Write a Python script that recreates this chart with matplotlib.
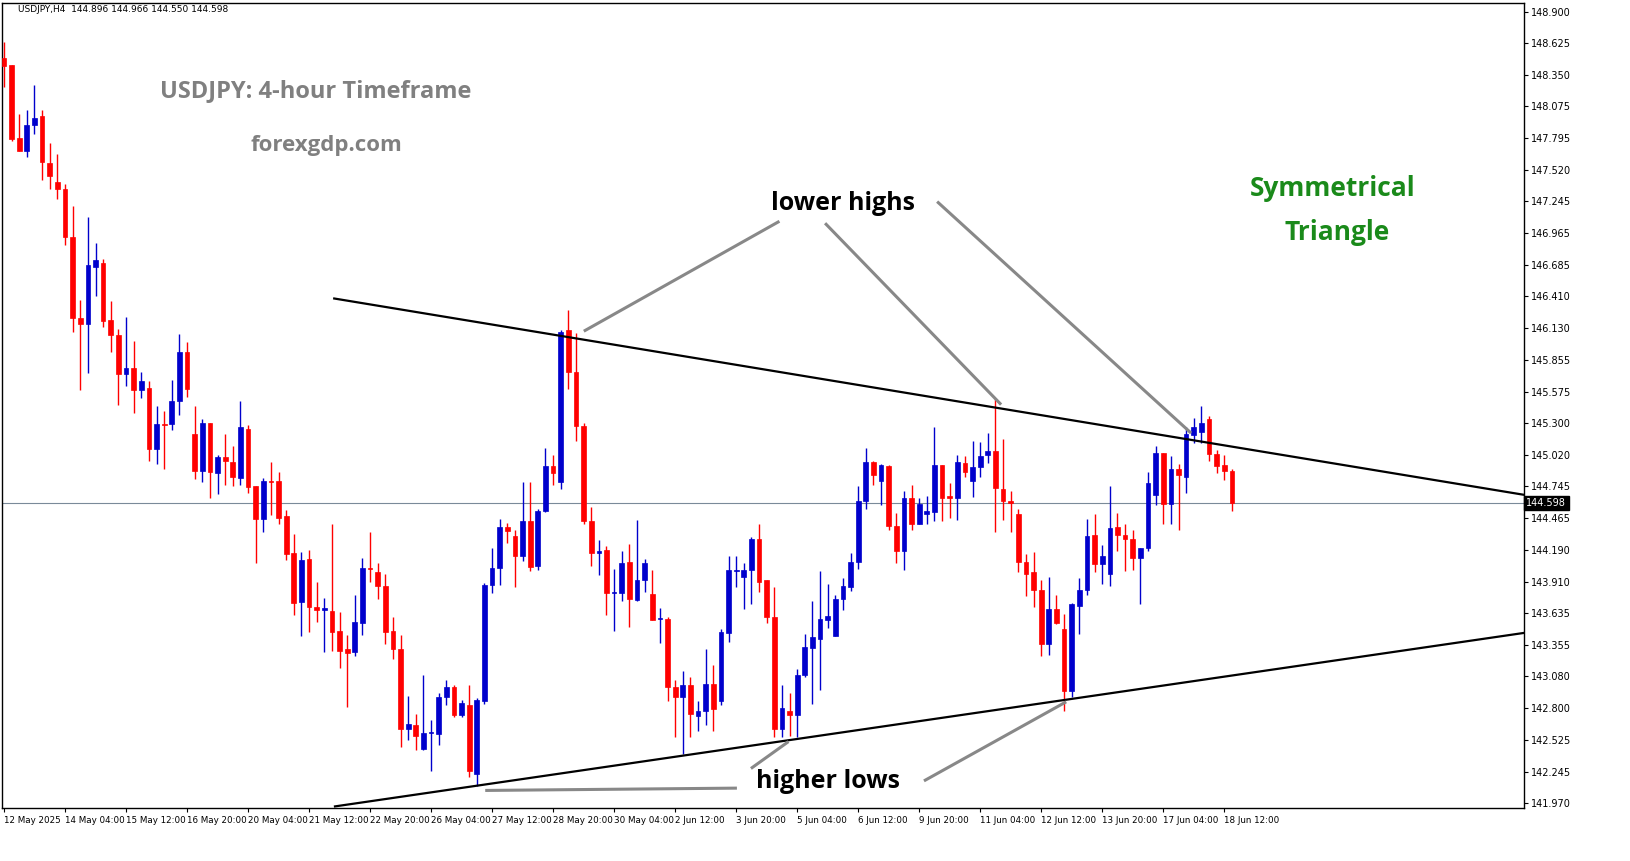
import matplotlib
matplotlib.use("Agg")
import matplotlib.pyplot as plt
from matplotlib.patches import Rectangle

# OHLC, USDJPY H4
opens = [148.50,148.44,147.80,147.68,147.91,147.99,147.58,147.41,147.35,146.93,
         146.22,146.17,146.67,146.70,146.20,146.07,145.73,145.78,145.59,145.61,
         145.07,145.29,145.29,145.49,145.92,145.20,144.88,145.30,144.86,145.00,
         144.96,144.82,145.25,144.75,144.46,144.79,144.79,144.48,144.16,143.73,
         144.11,143.69,143.66,143.65,143.48,143.32,143.29,143.55,144.03,143.99,
         143.87,143.48,143.32,142.62,142.65,142.44,142.58,142.57,142.90,142.99,
         142.74,142.83,142.22,142.86,143.88,144.03,144.39,144.31,144.13,144.44,
         144.05,144.53,144.92,144.78,146.11,145.75,145.27,144.44,144.16,144.19,
         143.81,143.81,144.08,143.75,143.92,143.80,143.58,143.58,142.99,142.90,
         143.00,142.73,142.78,143.01,142.86,143.46,144.00,143.95,144.01,144.28,
         143.92,143.60,142.62,142.78,142.74,143.09,143.33,143.41,143.57,143.43,
         143.76,143.86,144.08,144.62,144.96,144.79,144.92,144.40,144.18,144.64,
         144.41,144.50,144.52,144.93,144.66,144.64,144.95,144.79,144.91,145.02,
         145.05,144.72,144.62,144.50,144.08,143.99,143.84,143.36,143.67,143.49,
         142.95,143.70,143.84,144.32,144.06,143.98,144.39,144.32,144.28,144.12,
         144.20,144.67,145.04,144.59,144.90,144.83,145.19,145.22,145.33,145.03,
         144.93,144.88]
highs = [148.64,148.44,148.01,148.04,148.26,148.04,147.75,147.66,147.39,147.20,
         146.38,147.10,146.88,146.74,146.37,146.12,146.23,146.02,145.75,145.67,
         145.45,145.40,145.68,146.08,146.01,145.45,145.33,145.30,145.02,145.20,
         145.10,145.49,145.28,144.75,144.82,144.96,144.87,144.54,144.33,144.17,
         144.19,143.91,143.77,144.41,143.64,143.44,143.79,144.12,144.34,144.07,
         143.98,143.60,143.44,142.91,142.75,143.09,142.70,142.93,143.05,143.00,
         142.87,143.00,142.89,143.90,144.20,144.46,144.42,144.36,144.78,144.78,
         144.55,145.08,145.02,146.11,146.29,146.09,145.30,144.56,144.27,144.22,
         144.02,144.18,144.24,144.45,144.11,144.01,143.68,143.60,143.05,143.13,
         143.07,142.86,143.32,143.18,143.49,144.13,144.13,144.07,144.30,144.41,
         143.92,143.86,143.00,142.93,143.14,143.45,143.74,144.00,143.89,143.79,
         143.94,144.16,144.75,145.08,144.97,144.94,144.93,144.51,144.70,144.76,
         144.64,144.66,145.26,144.93,144.77,145.02,145.01,145.14,145.13,145.21,
         145.52,145.16,144.70,144.55,144.15,144.17,143.92,143.95,143.79,143.63,
         143.72,143.94,144.46,144.50,144.23,144.75,144.51,144.41,144.36,144.20,
         144.87,145.10,145.04,145.01,144.94,145.26,145.34,145.45,145.36,145.06,
         145.02,144.90]
lows = [148.24,147.77,147.68,147.63,147.83,147.43,147.35,147.26,146.86,146.10,
        145.59,145.74,146.41,146.14,145.92,145.46,145.62,145.39,145.52,144.97,
        144.94,144.90,145.24,145.37,145.53,144.81,144.78,144.64,144.68,144.76,
        144.75,144.76,144.69,144.07,144.34,144.49,144.41,144.10,143.62,143.43,
        143.47,143.56,143.29,143.30,143.15,142.81,143.26,143.44,143.91,143.76,
        143.36,143.23,142.46,142.52,142.43,142.43,142.25,142.48,142.83,142.72,
        142.72,142.20,142.12,142.84,143.81,143.88,144.25,143.86,144.09,144.00,
        144.01,144.52,144.76,144.72,145.60,145.14,144.41,144.05,143.97,143.62,
        143.48,143.74,143.51,143.74,143.82,143.57,143.37,142.86,142.55,142.40,
        142.55,142.60,142.65,142.60,142.83,143.38,143.86,143.67,143.71,143.82,
        143.55,142.55,142.55,142.56,142.55,143.07,142.84,142.96,143.50,143.43,
        143.66,143.83,144.02,144.55,144.76,144.58,144.36,144.07,144.01,144.36,
        144.41,144.41,144.44,144.44,144.47,144.45,144.83,144.65,144.83,144.95,
        144.34,144.45,144.34,143.99,143.78,143.69,143.26,143.27,143.54,142.78,
        142.90,143.45,143.79,143.99,143.89,143.87,144.18,144.00,144.01,143.71,
        144.18,144.58,144.41,144.41,144.36,144.69,145.12,145.12,144.97,144.86,
        144.80,144.53]
closes = [148.43,147.79,147.68,147.91,147.97,147.59,147.46,147.35,146.93,146.22,
          146.17,146.68,146.73,146.19,146.07,145.73,145.78,145.59,145.67,145.07,
          145.29,145.28,145.49,145.92,145.60,144.88,145.30,144.87,145.00,144.97,
          144.83,145.26,144.74,144.46,144.79,144.78,144.47,144.15,143.72,144.10,
          143.69,143.66,143.68,143.47,143.30,143.28,143.56,144.03,144.02,143.87,
          143.47,143.32,142.62,142.66,142.56,142.58,142.59,142.90,142.99,142.74,
          142.85,142.25,142.87,143.88,144.03,144.39,144.35,144.13,144.44,144.04,
          144.53,144.92,144.86,146.10,145.75,145.27,144.44,144.16,144.18,143.81,
          143.82,144.07,143.76,143.92,144.07,143.57,143.59,142.99,142.90,143.00,
          142.75,142.78,143.01,142.79,143.47,144.01,144.01,144.01,144.28,143.91,
          143.60,142.62,142.80,142.74,143.09,143.34,143.42,143.58,143.61,143.76,
          143.87,144.08,144.62,144.96,144.84,144.93,144.40,144.18,144.64,144.41,
          144.59,144.53,144.93,144.64,144.64,144.96,144.87,144.91,145.01,145.05,
          144.73,144.62,144.60,144.08,143.98,143.84,143.36,143.67,143.55,142.95,
          143.71,143.84,144.31,144.06,144.13,144.38,144.32,144.28,144.12,144.20,
          144.77,145.04,144.59,144.90,144.84,145.20,145.26,145.30,145.03,144.92,
          144.88,144.60]

date_labels = ["12 May 2025", "14 May 04:00", "15 May 12:00", "16 May 20:00", "20 May 04:00",
               "21 May 12:00", "22 May 20:00", "26 May 04:00", "27 May 12:00", "28 May 20:00",
               "30 May 04:00", "2 Jun 12:00", "3 Jun 20:00", "5 Jun 04:00", "6 Jun 12:00",
               "9 Jun 20:00", "11 Jun 04:00", "12 Jun 12:00", "13 Jun 20:00", "17 Jun 04:00",
               "18 Jun 12:00"]
price_ticks = [148.900, 148.625, 148.350, 148.075, 147.795, 147.520, 147.245, 146.965,
               146.685, 146.410, 146.130, 145.855, 145.575, 145.300, 145.020, 144.745,
               144.465, 144.190, 143.910, 143.635, 143.355, 143.080, 142.800, 142.525,
               142.245, 141.970]
last_price = 144.598

# trendlines drawn on the chart (bar index, price)
upper_line = ([43.3, 199.3], [146.39, 144.67])
lower_line = ([43.4, 199.3], [141.94, 143.46])
# pointer lines for the notes
high_pointers = [([101.5, 76.2], [147.06, 146.11]),
                 ([107.8, 130.6], [147.04, 145.47]),
                 ([122.5, 155.5], [147.23, 145.22])]
low_pointers = [([98.1, 102.7], [142.28, 142.50]),
                ([63.3, 95.9], [142.08, 142.10]),
                ([120.8, 139.1], [142.17, 142.85])]

W, H = 1631, 861
fig = plt.figure(figsize=(W / 100, H / 100), dpi=100)
ax = fig.add_axes([2 / W, (H - 808) / H, 1522 / W, 805 / H])

bw = 0.62
for i, (o, h, l, c) in enumerate(zip(opens, highs, lows, closes)):
    col = "#0000cc" if c >= o else "#ff0000"
    ax.plot([i, i], [l, h], color=col, lw=1.0, solid_capstyle="butt", zorder=3)
    bot = min(o, c)
    ht = max(abs(c - o), 0.012)
    ax.add_patch(Rectangle((i - bw / 2, bot), bw, ht, facecolor=col, edgecolor=col, lw=0.5, zorder=4))

ax.axhline(last_price, color="#7a8a99", lw=0.8, zorder=2)

ax.plot(*upper_line, color="black", lw=1.6, zorder=5)
ax.plot(*lower_line, color="black", lw=1.6, zorder=5)
for xs, ys in high_pointers + low_pointers:
    ax.plot(xs, ys, color="#888888", lw=2.2, zorder=5)

ax.set_xlim(-0.26, 199.3)
ax.set_ylim(141.926, 148.979)

ax.yaxis.tick_right()
ax.set_yticks(price_ticks)
ax.set_yticklabels([f"{p:.3f}" for p in price_ticks], fontsize=7, family="DejaVu Sans")
ax.tick_params(axis="y", length=3, pad=2, width=0.8)
ax.set_xticks([i * 8 for i in range(len(date_labels))])
ax.set_xticklabels(date_labels, fontsize=6.3, ha="left")
ax.tick_params(axis="x", length=3, pad=3, width=0.8)
for s in ax.spines.values():
    s.set_linewidth(1.0)

ax.text(1.0015, last_price, f"{last_price:.3f}", transform=ax.get_yaxis_transform(),
        fontsize=7, color="white", va="center", ha="left",
        bbox=dict(boxstyle="square,pad=0.25", facecolor="black", edgecolor="black"))

def ftext(px, py, s, **kw):
    fig.text(px / W, 1 - py / H, s, ha="center", va="center", **kw)

fig.text(18 / W, 1 - 10 / H, "USDJPY,H4  144.896 144.966 144.550 144.598",
         fontsize=6.5, va="center", ha="left")
ftext(316, 91, "USDJPY: 4-hour Timeframe", fontsize=17, weight="bold", color="#808080", family="Open Sans")
ftext(326, 146, "forexgdp.com", fontsize=16, weight="bold", color="#808080", family="Open Sans")
ftext(843, 203, "lower highs", fontsize=18, weight="bold", color="black", family="Open Sans")
ftext(828, 782, "higher lows", fontsize=18, weight="bold", color="black", family="Open Sans")
ftext(1333, 188, "Symmetrical", fontsize=19, weight="bold", color="#1a8a1a", family="Open Sans")
ftext(1337, 232, "Triangle", fontsize=19, weight="bold", color="#1a8a1a", family="Open Sans")

fig.savefig("out.png", dpi=100)
